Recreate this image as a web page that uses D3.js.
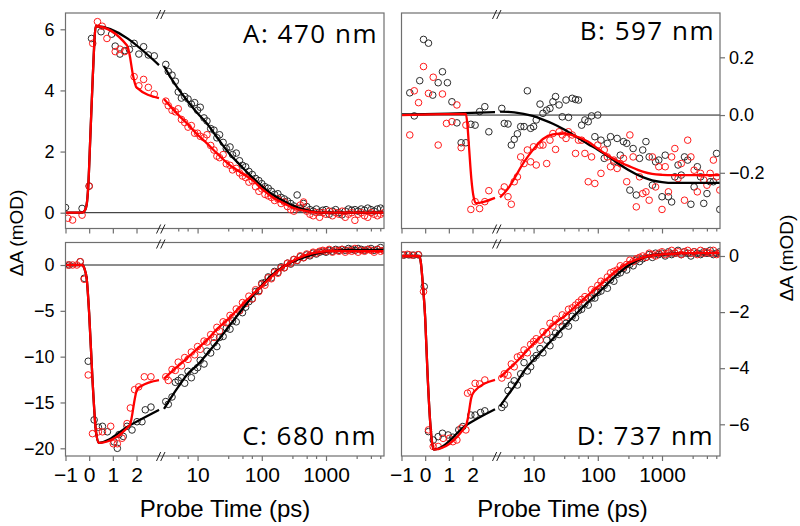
<!DOCTYPE html>
<html><head><meta charset="utf-8">
<script src="https://cdn.jsdelivr.net/npm/d3@7"></script>
<style>html,body{margin:0;padding:0;background:#fff;} svg{display:block;}</style>
</head><body>
<svg id="chart" width="800" height="526"></svg>
<script>
// ---------- shared time grids (ps) ----------
const LOG_T = [3.2, 3.5, 4, 4.5, 5, 5.6, 6.3, 7.1, 8, 9,
 10, 11, 12.6, 14, 16, 18, 20, 22, 25, 28,
 32, 35, 40, 45, 50, 56, 63, 71, 80, 90,
 100, 112, 126, 141, 158, 178, 200, 224, 251, 282,
 316, 355, 398, 447, 501, 562, 631, 708, 794, 891,
 1000, 1122, 1259, 1413, 1585, 1778, 1995, 2239, 2512, 2818,
 3162, 3548, 3981, 4467, 5012, 5623, 6310, 7079, 7943];
const FIT_LOG_T = [3, 4, 5, 7, 10, 14, 20, 30, 50, 70, 100, 150, 200, 300, 500, 700, 1000, 1500, 2000, 3000, 5000, 8000];
const X_LIN_TICKS = [-1, 0, 1, 2];
const X_LOG_MAJOR = [10, 100, 1000];
const X_LOG_MINOR = [5, 7, 30, 50, 70, 300, 500, 700, 3000, 5000, 7000];

// ---------- Panel A: 470 nm ----------
const aBlkLinT = [-1, -0.3, 0, 0.1, 0.5, 0.95, 1.1, 1.3, 1.5, 1.7, 1.9, 2.1, 2.3, 2.5, 2.75];
const aBlkLinV = [0.17, 0.14, 0.87, 5.7, 5.92, 5.84, 5.45, 5.19, 5.3, 5.34, 5.54, 5.19, 5.43, 5.16, 5.13];
const aRedLinT = [-0.9, -0.7, -0.3, 0, 0.15, 0.35, 0.55, 0.75, 1.1, 1.3, 1.5, 1.9, 2.1, 2.3, 2.5, 2.75];
const aRedLinV = [-0.18, -0.24, -0.08, 0.87, 5.54, 6.25, 6.1, 5.7, 5.27, 5.35, 5.27, 4.45, 4.15, 4.36, 4.1, 3.88];
const aBlkLogV = [4.85, 4.62, 4.50, 4.30, 3.95, 3.75, 3.80, 3.72, 3.55, 3.60,
 3.35, 3.45, 3.10, 3.00, 2.75, 2.70, 2.45, 2.55, 2.30, 2.10,
 2.15, 1.90, 1.95, 1.70, 1.55, 1.50, 1.35, 1.25, 1.12, 1.05,
 0.95, 0.85, 0.80, 0.70, 0.60, 0.62, 0.50, 0.45, 0.38, 0.30,
 0.22, 0.58, 0.15, 0.30, 0.20, 0.10, 0.05, 0.12, 0.02, 0.08,
 0.10, -0.05, 0.05, 0.10, 0.00, -0.07, 0.05, 0.12, 0.08, 0.10,
 0.05, 0.12, 0.08, 0.15, 0.10, 0.05, 0.12, 0.15, 0.10];
const aRedLogV = [3.65, 3.50, 3.35, 3.30, 3.40, 3.05, 2.95, 2.80, 2.85, 2.60,
 2.60, 2.50, 2.45, 2.55, 2.20, 2.05, 1.85, 1.80, 1.90, 1.60,
 1.55, 1.40, 1.45, 1.30, 1.20, 1.15, 1.00, 1.05, 0.85, 0.70,
 0.78, 0.60, 0.55, 0.50, 0.40, 0.45, 0.30, 0.35, 0.20, 0.10,
 0.05, 0.15, 0.25, 0.35, 0.05, -0.05, -0.10, 0.00, -0.15, 0.00,
 -0.05, 0.05, -0.10, 0.00, -0.05, 0.05, -0.15, -0.05, 0.00, -0.25,
 -0.05, 0.00, -0.10, -0.15, 0.00, -0.05, -0.10, -0.05, 0.00];
const aBlkFitLinT = [-1, -0.3, -0.2, -0.1, -0.04, 0.05, 0.15, 0.28, 2.95];
const aBlkFitLinV = [0, 0, 0.05, 0.3, 0.85, 2.5, 4.4, 6.1, 4.83];
const aRedFitLinT = [-1, -0.3, -0.2, -0.1, -0.04, 0.05, 0.15, 0.28, 1.6, 1.7, 1.85, 2.0, 2.95];
const aRedFitLinV = [0, 0, 0.05, 0.3, 0.85, 2.5, 4.4, 6.1, 5.47, 5.2, 4.5, 4.1, 3.75];
const aBlkFitLogV = [4.80, 4.35, 4.05, 3.65, 3.25, 2.92, 2.47, 1.98, 1.48, 1.17, 0.87, 0.58, 0.43, 0.24, 0.08, 0.02, 0, 0, 0, 0, 0, 0];
const aRedFitLogV = [3.72, 3.42, 3.20, 2.90, 2.55, 2.27, 1.94, 1.60, 1.28, 1.08, 0.78, 0.50, 0.35, 0.17, 0.05, 0.01, 0, 0, 0, 0, 0, 0];

// ---------- Panel B: 597 nm ----------
const bBlkLinT = [-0.65, -0.46, -0.23, -0.07, 0.14, 0.32, 0.55, 0.73, 0.94, 1.13, 1.34, 1.52, 1.72, 1.93, 2.11, 2.3, 2.52, 2.69];
const bBlkLinV = [0.077, -0.003, 0.119, 0.262, 0.249, 0.069, 0.112, 0.15, 0.112, 0.046, -0.027, -0.096, -0.096, -0.032, -0.035, 0.012, 0.029, -0.058];
const bRedLinT = [-0.65, -0.46, -0.28, -0.07, 0.14, 0.34, 0.55, 0.73, 0.9, 1.13, 1.34, 1.52, 1.72, 1.93, 2.11, 2.3, 2.52, 2.69];
const bRedLinV = [-0.069, 0.084, 0.043, 0.168, 0.075, 0.131, -0.104, 0.073, -0.029, -0.023, 0.035, -0.113, -0.035, -0.327, -0.30, -0.324, -0.30, -0.262];
const bBlkLogV = [0.023, -0.029, -0.031, -0.104, -0.084, -0.065, -0.040, -0.040, 0.084, -0.046,
 -0.040, -0.017, 0.038, 0.006, 0.017, 0.023, 0.046, 0.064, 0.035, -0.006,
 0.052, -0.008, 0.058, 0.054, 0.052, -0.035, -0.017, -0.023, -0.003, -0.075,
 0.000, -0.087, -0.150, -0.098, -0.075, -0.162, -0.081, -0.139, -0.092, -0.098,
 -0.260, -0.116, -0.277, -0.150, -0.121, -0.092, -0.145, -0.243, -0.162, -0.156,
 -0.283, -0.139, -0.283, -0.301, -0.214, -0.173, -0.208, -0.145, -0.156, -0.309,
 -0.249, -0.179, -0.214, -0.306, -0.272, -0.231, -0.231, -0.133, -0.327];
const bRedLogV = [-0.266, -0.249, -0.283, -0.309, -0.231, -0.214, -0.145, -0.168, -0.121, -0.162,
 -0.110, -0.173, -0.104, -0.104, -0.168, -0.087, -0.064, -0.119, -0.058, -0.069,
 -0.081, -0.058, -0.069, -0.133, -0.087, -0.087, -0.133, -0.231, -0.145, -0.237,
 -0.104, -0.202, -0.121, -0.145, -0.179, -0.156, -0.185, -0.168, -0.150, -0.231,
 -0.069, -0.145, -0.318, -0.214, -0.272, -0.266, -0.295, -0.145, -0.249, -0.179,
 -0.327, -0.179, -0.266, -0.145, -0.116, -0.220, -0.168, -0.295, -0.087, -0.145,
 -0.191, -0.266, -0.202, -0.225, -0.243, -0.202, -0.156, -0.214, -0.260];
const bBlkFitLinT = [-1, 1, 2.95];
const bBlkFitLinV = [0.002, 0.005, 0.01];
const bRedFitLinT = [-1, 1.72, 1.78, 1.86, 1.95, 2.05, 2.15, 2.5, 2.95];
const bRedFitLinV = [0.0, 0.004, -0.03, -0.12, -0.22, -0.285, -0.305, -0.3, -0.287];
const bBlkFitLogV = [0.012, 0.011, 0.009, 0.004, -0.004, -0.016, -0.03, -0.05, -0.08, -0.1, -0.12, -0.145, -0.165, -0.19, -0.215, -0.226, -0.232, -0.235, -0.235, -0.235, -0.235, -0.235];
const bRedFitLogV = [-0.285, -0.255, -0.22, -0.165, -0.118, -0.083, -0.067, -0.064, -0.077, -0.092, -0.116, -0.143, -0.158, -0.176, -0.196, -0.204, -0.207, -0.208, -0.208, -0.208, -0.208, -0.208];

// ---------- Panel C: 680 nm ----------
const cBlkLinT = [-0.84, -0.38, -0.21, -0.04, 0.21, 0.39, 0.56, 0.77, 1.05, 1.19, 1.26, 1.44, 1.6, 1.81, 2.02, 2.23, 2.37, 2.61];
const cBlkLinV = [0, 0.36, -1.45, -10.5, -16.9, -17.7, -17.6, -18.2, -19.3, -20.0, -18.5, -18.7, -17.6, -18.0, -17.1, -17.1, -15.8, -15.5];
const cRedLinT = [-0.9, -0.7, -0.52, -0.38, -0.21, -0.04, 0.14, 0.39, 0.56, 0.91, 1.02, 1.19, 1.39, 1.6, 1.74, 1.92, 2.09, 2.33, 2.61];
const cRedLinV = [0, 0, 0, 0.36, -1.56, -12.0, -18.4, -18.2, -18.2, -17.6, -19.5, -19.5, -18.9, -17.3, -15.6, -13.6, -13.3, -12.2, -12.2];
const cBlkLogV = [-14.9, -15.2, -14.4, -12.8, -12.6, -12.3, -12.9, -11.6, -12.3, -11.5,
 -11.2, -10.4, -10.8, -9.4, -9.6, -8.5, -8.9, -7.9, -7.8, -6.9,
 -7.0, -6.1, -6.2, -5.0, -5.2, -4.6, -4.0, -3.7, -2.9, -2.8,
 -2.0, -1.9, -1.3, -1.4, -0.7, -0.8, -0.2, -0.3, 0.2, 0.1,
 0.6, 0.5, 0.9, 0.8, 1.1, 1.0, 1.3, 1.2, 1.4, 1.5,
 1.4, 1.6, 1.5, 1.7, 1.6, 1.7, 1.6, 1.8, 1.7, 1.6,
 1.8, 1.7, 1.6, 1.7, 1.8, 1.6, 1.7, 1.9, 1.6];
const cRedLogV = [-12.2, -12.6, -11.4, -11.5, -10.6, -11.0, -10.1, -10.3, -9.5, -9.8,
 -8.9, -9.2, -8.3, -8.4, -7.6, -7.9, -6.8, -7.2, -6.2, -6.3,
 -5.5, -5.7, -4.8, -5.0, -4.1, -4.2, -3.4, -3.7, -2.7, -2.9,
 -2.1, -2.2, -1.4, -1.5, -0.8, -0.9, -0.3, -0.3, 0.2, 0.2,
 0.6, 0.5, 1.0, 0.8, 1.2, 1.1, 1.4, 1.3, 1.5, 1.6,
 1.5, 1.7, 1.4, 1.6, 1.5, 1.7, 1.4, 1.6, 1.5, 1.8,
 1.4, 1.6, 1.5, 1.7, 1.6, 1.4, 1.7, 1.5, 1.6];
const cBlkFitLinT = [-1, -0.3, -0.2, -0.1, 0, 0.14, 0.28, 0.4, 1.74, 2.95];
const cBlkFitLinV = [0, 0, -0.4, -1.6, -5.3, -12.5, -18.0, -19.4, -17.45, -15.8];
const cRedFitLinT = [-1, -0.3, -0.2, -0.1, 0, 0.14, 0.28, 0.4, 1.72, 1.8, 1.9, 2.02, 2.2, 2.95];
const cRedFitLinV = [0, 0, -0.4, -1.6, -5.3, -12.5, -18.0, -19.4, -17.45, -16.6, -15.0, -13.6, -13.2, -12.55];
const cBlkFitLogV = [-15.7, -14.3, -13.3, -11.9, -10.9, -9.7, -8.4, -6.8, -4.8, -3.5, -2.2, -1.0, -0.35, 0.35, 0.95, 1.25, 1.45, 1.6, 1.64, 1.65, 1.65, 1.65];
const cRedFitLogV = [-12.4, -11.6, -11.0, -10.1, -9.1, -8.2, -7.0, -5.9, -4.3, -3.3, -2.3, -1.1, -0.4, 0.4, 1.1, 1.35, 1.5, 1.55, 1.52, 1.5, 1.5, 1.5];

// ---------- Panel D: 737 nm ----------
const dBlkLinT = [-0.9, -0.69, -0.48, -0.28, -0.04, 0.14, 0.34, 0.55, 0.73, 0.97, 1.17, 1.42, 1.59, 1.93, 2.11, 2.34, 2.52];
const dBlkLinV = [0.03, 0.04, 0.03, 0.04, -1.09, -6.26, -6.56, -6.44, -6.32, -6.38, -6.46, -6.2, -6.08, -5.67, -5.67, -5.58, -5.52];
const dRedLinT = [-0.95, -0.75, -0.55, -0.3, -0.07, 0.14, 0.34, 0.55, 0.76, 1.03, 1.17, 1.34, 1.52, 1.72, 1.79, 1.93, 2.11, 2.3, 2.52];
const dRedLinV = [0.04, 0.06, 0.03, 0.05, -1.27, -6.2, -6.79, -6.79, -6.5, -6.5, -6.62, -6.56, -6.14, -6.2, -4.89, -4.83, -4.54, -4.56, -4.42];
const dBlkLogV = [-5.4, -5.3, -4.8, -4.6, -4.45, -4.6, -4.2, -3.8, -4.1, -3.95,
 -3.65, -3.55, -3.3, -3.45, -3.0, -3.2, -2.9, -2.75, -2.8, -2.5,
 -2.4, -2.5, -2.15, -2.2, -1.95, -1.9, -1.7, -1.75, -1.5, -1.5,
 -1.3, -1.25, -1.05, -1.15, -0.85, -0.9, -0.65, -0.6, -0.45, -0.5,
 -0.3, -0.35, -0.15, -0.2, -0.1, -0.05, 0.05, -0.05, 0.1, 0.05,
 0.1, 0.0, 0.15, 0.05, 0.1, 0.2, 0.05, 0.15, 0.1, 0.0,
 0.15, 0.1, 0.05, 0.15, 0.1, 0.2, 0.05, 0.1, 0.15];
const dRedLogV = [-4.35, -4.2, -4.25, -3.85, -3.95, -3.6, -3.55, -3.35, -3.45, -3.15,
 -3.05, -2.95, -3.0, -2.7, -2.75, -2.4, -2.5, -2.25, -2.35, -2.1,
 -2.15, -1.9, -1.85, -1.75, -1.65, -1.55, -1.45, -1.5, -1.2, -1.25,
 -1.05, -0.9, -0.95, -0.75, -0.6, -0.55, -0.5, -0.35, -0.4, -0.3,
 -0.15, -0.2, -0.1, -0.05, 0.0, -0.05, 0.1, 0.05, 0.0, 0.1,
 0.15, 0.05, 0.1, 0.2, 0.1, 0.15, 0.05, 0.15, 0.2, 0.1,
 0.15, 0.05, 0.2, 0.1, 0.15, 0.1, 0.2, 0.05, 0.1];
const dBlkFitLinT = [-1, -0.25, -0.18, -0.1, 0, 0.1, 0.21, 0.3, 0.37, 1.79, 2.95];
const dBlkFitLinV = [0, 0, -0.25, -1.0, -2.2, -4.2, -5.9, -6.7, -6.9, -6.0, -5.46];
const dRedFitLinT = [-1, -0.25, -0.18, -0.1, 0, 0.1, 0.21, 0.3, 0.37, 1.72, 1.8, 1.95, 2.07, 2.95];
const dRedFitLinV = [0, 0, -0.25, -1.0, -2.2, -4.2, -5.9, -6.7, -6.9, -6.05, -5.8, -5.05, -4.83, -4.42];
const dBlkFitLogV = [-5.36, -4.95, -4.65, -4.12, -3.7, -3.35, -2.95, -2.51, -1.98, -1.65, -1.33, -0.93, -0.66, -0.34, -0.07, 0.03, 0.06, 0.08, 0.1, 0.1, 0.1, 0.1];
const dRedFitLogV = [-4.33, -4.05, -3.85, -3.5, -3.12, -2.8, -2.45, -2.15, -1.7, -1.4, -1.09, -0.74, -0.5, -0.25, -0.06, 0.02, 0.06, 0.08, 0.1, 0.1, 0.1, 0.1];

// ---------- layout ----------
const svg = d3.select('#chart');
const FRAME = '#6f6f6f';
const BLACK = '#2b2b2b', RED = '#ff1a1a';
const FONT = '"Liberation Sans", Arial, Helvetica, sans-serif';
const panelW = 318.5, linW = 93.5, logX0 = 98.5, breakX = 95.5;

const panels = [
  {key:'A', x0:65.5, y0:13, y1:228.5, yDom:[-0.517, 6.533], yTicks:[0,2,4,6], yFmt:d3.format('d'), side:'left', showX:false,
   label:'A: 470 nm', lx:378, ly:42.7,
   blk:[aBlkLinT,aBlkLinV,aBlkLogV,aBlkFitLinT,aBlkFitLinV,aBlkFitLogV],
   red:[aRedLinT,aRedLinV,aRedLogV,aRedFitLinT,aRedFitLinV,aRedFitLogV]},
  {key:'B', x0:401.5, y0:13, y1:228.5, yDom:[-0.393, 0.3535], yTicks:[-0.2,0,0.2], yFmt:d3.format('.1f'), side:'right', showX:false,
   label:'B: 597 nm', lx:715, ly:40,
   blk:[bBlkLinT,bBlkLinV,bBlkLogV,bBlkFitLinT,bBlkFitLinV,bBlkFitLogV],
   red:[bRedLinT,bRedLinV,bRedLogV,bRedFitLinT,bRedFitLinV,bRedFitLogV]},
  {key:'C', x0:65.5, y0:242.5, y1:456, yDom:[-20.84, 2.455], yTicks:[-20,-15,-10,-5,0], yFmt:d3.format('d'), side:'left', showX:true,
   label:'C: 680 nm', lx:377, ly:445,
   blk:[cBlkLinT,cBlkLinV,cBlkLogV,cBlkFitLinT,cBlkFitLinV,cBlkFitLogV],
   red:[cRedLinT,cRedLinV,cRedLogV,cRedFitLinT,cRedFitLinV,cRedFitLogV]},
  {key:'D', x0:401.5, y0:242.5, y1:456, yDom:[-7.13, 0.481], yTicks:[-6,-4,-2,0], yFmt:d3.format('d'), side:'right', showX:true,
   label:'D: 737 nm', lx:714, ly:445,
   blk:[dBlkLinT,dBlkLinV,dBlkLogV,dBlkFitLinT,dBlkFitLinV,dBlkFitLogV],
   red:[dRedLinT,dRedLinV,dRedLogV,dRedFitLinT,dRedFitLinV,dRedFitLogV]}
];

const defs = svg.append('defs');

panels.forEach(p => {
  const g = svg.append('g');
  const xLin = d3.scaleLinear().domain([-1, 2.95]).range([p.x0, p.x0 + linW]);
  const xLog = d3.scaleLog().domain([3, 8000]).range([p.x0 + logX0, p.x0 + panelW]);
  const y = d3.scaleLinear().domain(p.yDom).range([p.y1, p.y0]);
  const clipId = 'clip' + p.key;
  defs.append('clipPath').attr('id', clipId).append('rect')
    .attr('x', p.x0).attr('y', p.y0).attr('width', panelW).attr('height', p.y1 - p.y0);

  // zero line
  g.append('line').attr('x1', p.x0).attr('x2', p.x0 + panelW).attr('y1', y(0)).attr('y2', y(0))
    .attr('stroke', '#1a1a1a').attr('stroke-width', 1);

  const plot = g.append('g').attr('clip-path', `url(#${clipId})`);
  const pts = (ts, vs, xs, color) => plot.append('g').selectAll('circle')
    .data(ts.map((t, k) => [t, vs[k]])).join('circle')
    .attr('cx', d => xs(d[0])).attr('cy', d => y(d[1])).attr('r', 3.3)
    .attr('fill', 'none').attr('stroke', color).attr('stroke-width', 1);
  const curve = (ts, vs, xs, color) => plot.append('path')
    .datum(ts.map((t, k) => [t, vs[k]]))
    .attr('d', d3.line().x(d => xs(d[0])).y(d => y(d[1])).curve(d3.curveMonotoneX))
    .attr('fill', 'none').attr('stroke', color).attr('stroke-width', 2.3).attr('stroke-linejoin', 'round');

  pts(p.blk[0], p.blk[1], xLin, BLACK);
  pts(LOG_T, p.blk[2], xLog, BLACK);
  pts(p.red[0], p.red[1], xLin, RED);
  pts(LOG_T, p.red[2], xLog, RED);
  curve(p.blk[3], p.blk[4], xLin, '#000');
  curve(FIT_LOG_T, p.blk[5], xLog, '#000');
  curve(p.red[3], p.red[4], xLin, '#ff0000');
  curve(FIT_LOG_T, p.red[5], xLog, '#ff0000');

  // frame
  g.append('rect').attr('x', p.x0).attr('y', p.y0).attr('width', panelW).attr('height', p.y1 - p.y0)
    .attr('fill', 'none').attr('stroke', FRAME).attr('stroke-width', 1.2);

  const style = (sel, size) => {
    sel.select('.domain').remove();
    sel.selectAll('.tick line').attr('stroke', FRAME).attr('stroke-width', 1.2);
    sel.selectAll('.tick text').attr('fill', '#000').style('font-family', FONT).style('font-size', size + 'px');
  };

  // x axes (bottom)
  const xa = g.append('g').attr('transform', `translate(0,${p.y1})`);
  xa.append('g').call(d3.axisBottom(xLin).tickValues(X_LIN_TICKS).tickSize(5).tickPadding(6)
    .tickFormat(p.showX ? d3.format('d') : () => '')).call(s => style(s, 21));
  xa.append('g').call(d3.axisBottom(xLog).tickValues(X_LOG_MAJOR).tickSize(5).tickPadding(6)
    .tickFormat(p.showX ? d3.format('d') : () => '')).call(s => style(s, 21));
  xa.append('g').call(d3.axisBottom(xLog).tickValues(X_LOG_MINOR).tickSize(3).tickFormat(() => ''))
    .call(s => style(s, 21));

  // y axis
  if (p.side === 'left') {
    g.append('g').attr('transform', `translate(${p.x0},0)`)
      .call(d3.axisLeft(y).tickValues(p.yTicks).tickSize(5).tickPadding(6).tickFormat(p.yFmt))
      .call(s => style(s, 18));
  } else {
    g.append('g').attr('transform', `translate(${p.x0 + panelW},0)`)
      .call(d3.axisRight(y).tickValues(p.yTicks).tickSize(5).tickPadding(4).tickFormat(p.yFmt))
      .call(s => style(s, 18));
  }

  // axis break marks
  const xb = p.x0 + breakX;
  [p.y0 + 1.5, p.y1 + 0.5].forEach(yc => {
    g.append('path')
      .attr('d', `M${xb - 4.5},${yc + 4.5}L${xb - 0.3},${yc - 4.5}M${xb - 0.3},${yc + 4.5}L${xb + 4},${yc - 4.5}`)
      .attr('stroke', '#222').attr('stroke-width', 1).attr('fill', 'none');
  });

  // panel label
  g.append('text').attr('x', p.lx).attr('y', p.ly).attr('text-anchor', 'end')
    .style('font-family', '"Open Sans", "Noto Sans", sans-serif').style('font-size', '26px')
    .style('letter-spacing', '1.5px')
    .attr('fill', '#000').text(p.label);
});

// axis titles
const titles = svg.append('g').style('font-family', FONT).attr('fill', '#000');
titles.append('text').attr('transform', 'translate(23,233) rotate(-90)').attr('text-anchor', 'middle')
  .style('font-size', '19px').text('ΔA (mOD)');
titles.append('text').attr('transform', 'translate(793,258) rotate(-90)').attr('text-anchor', 'middle')
  .style('font-size', '19px').text('ΔA (mOD)');
titles.append('text').attr('x', 225).attr('y', 516.5).attr('text-anchor', 'middle')
  .style('font-size', '24px').text('Probe Time (ps)');
titles.append('text').attr('x', 562.5).attr('y', 516.5).attr('text-anchor', 'middle')
  .style('font-size', '24px').text('Probe Time (ps)');
</script>
</body></html>
